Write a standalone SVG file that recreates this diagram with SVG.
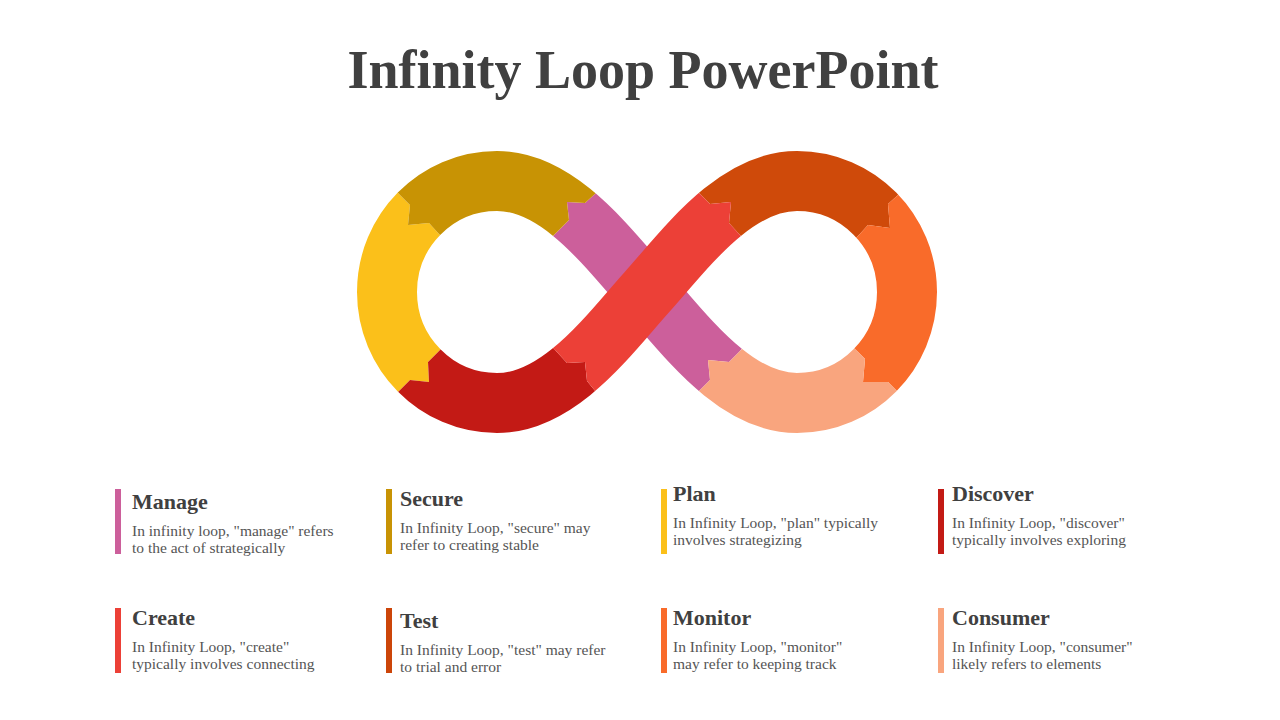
<svg xmlns="http://www.w3.org/2000/svg" width="1280" height="720" viewBox="0 0 1280 720">
<style>
.t{font-family:"Liberation Serif","DejaVu Serif",serif;font-weight:bold;fill:#404040}
.h{font-family:"Liberation Serif","DejaVu Serif",serif;font-weight:bold;font-size:22px;fill:#404040}
.b{font-family:"Liberation Serif","DejaVu Serif",serif;font-size:15.5px;fill:#555}
.s{fill:none;stroke-width:60}
</style>
<defs>
<path id="loop" d="M647,292 C610,251 560,181 497,181 C436,181 387,231 387,292 C387,353 436,403 497,403 C560,403 610,333 647,292 C684,251 734,181 797,181 C858,181 907,231 907,292 C907,353 858,403 797,403 C734,403 684,333 647,292 Z"/>
<path id="dpink" d="M497,181 C560,181 610,251 647,292 C684,333 734,403 797,403"/>
<path id="dred" d="M497,403 C560,403 610,333 647,292 C684,251 734,181 797,181"/>
<clipPath id="cY"><polygon points="370,160 398,193 410,205 408,225 429,223 439,234 497,292 439,351 428,362 429,382 410,380 398,392 370,425 300,470 300,110"/></clipPath>
<clipPath id="cG"><polygon points="370,160 398,193 410,205 408,225 429,223 439,234 497,292 556,233 569,220 567,202 585,203 596,193 625,160 620,100 360,100"/></clipPath>
<clipPath id="cP"><polygon points="640,150 596,193 585,203 567,202 569,220 556,233 520,270 670,430 698,392 710,380 708,360 729,362 740,351 780,300 680,200"/></clipPath>
<clipPath id="cD"><polygon points="370,425 398,392 410,380 429,382 428,362 439,351 497,292 556,351 567,363 585,362 587,381 596,392 625,425 620,480 360,480"/></clipPath>
<clipPath id="cR"><polygon points="625,430 596,392 587,381 585,362 567,363 556,351 530,330 670,160 699,193 710,204 731,202 729,223 740,235 770,265 660,440"/></clipPath>
<clipPath id="cO"><polygon points="670,160 699,193 710,204 731,202 729,223 740,235 797,292 858,236 868,225 890,228 888,204 898,195 930,160 930,100 670,100"/></clipPath>
<clipPath id="cF"><polygon points="930,160 898,195 888,204 890,228 868,225 858,236 797,292 857,351 865,359 863,382 888,382 898,392 930,430 1000,430 1000,150"/></clipPath>
<clipPath id="cK"><polygon points="930,430 898,392 888,382 863,382 865,359 857,351 797,292 740,351 729,362 708,360 710,380 698,392 670,430 670,480 930,480"/></clipPath>
</defs>
<rect width="1280" height="720" fill="#fff"/>
<text class="t" x="643" y="88" font-size="54" text-anchor="middle">Infinity Loop PowerPoint</text>
<g id="loop-segments">
<use href="#dpink" class="s" stroke="#CC5F9B" clip-path="url(#cP)"/>
<use href="#loop" class="s" stroke="#FBC01A" clip-path="url(#cY)"/>
<use href="#loop" class="s" stroke="#C89304" clip-path="url(#cG)"/>
<use href="#loop" class="s" stroke="#C31A15" clip-path="url(#cD)"/>
<use href="#loop" class="s" stroke="#CF4A0A" clip-path="url(#cO)"/>
<use href="#loop" class="s" stroke="#F96B2A" clip-path="url(#cF)"/>
<use href="#loop" class="s" stroke="#F9A57E" clip-path="url(#cK)"/>
<use href="#dred" class="s" stroke="#EC4037" clip-path="url(#cR)"/>
</g>
<g id="manage"><rect x="115" y="489" width="6" height="65" fill="#CC5F9B"/><text class="h" x="132" y="509">Manage</text><text class="b" x="132" y="536">In infinity loop, "manage" refers</text><text class="b" x="132" y="553">to the act of strategically</text></g>
<g id="secure"><rect x="386" y="489" width="6" height="65" fill="#C89304"/><text class="h" x="400" y="506">Secure</text><text class="b" x="400" y="533">In Infinity Loop, "secure" may</text><text class="b" x="400" y="550">refer to creating stable</text></g>
<g id="plan"><rect x="661" y="489" width="6" height="65" fill="#FBC01A"/><text class="h" x="673" y="501">Plan</text><text class="b" x="673" y="528">In Infinity Loop, "plan" typically</text><text class="b" x="673" y="545">involves strategizing</text></g>
<g id="discover"><rect x="938" y="489" width="6" height="65" fill="#C31A15"/><text class="h" x="952" y="501">Discover</text><text class="b" x="952" y="528">In Infinity Loop, "discover"</text><text class="b" x="952" y="545">typically involves exploring</text></g>
<g id="create"><rect x="115" y="608" width="6" height="65" fill="#EC4037"/><text class="h" x="132" y="625">Create</text><text class="b" x="132" y="652">In Infinity Loop, "create"</text><text class="b" x="132" y="669">typically involves connecting</text></g>
<g id="test"><rect x="386" y="608" width="6" height="65" fill="#CC4509"/><text class="h" x="400" y="628">Test</text><text class="b" x="400" y="655">In Infinity Loop, "test" may refer</text><text class="b" x="400" y="672">to trial and error</text></g>
<g id="monitor"><rect x="661" y="608" width="6" height="65" fill="#F96B2A"/><text class="h" x="673" y="625">Monitor</text><text class="b" x="673" y="652">In Infinity Loop, "monitor"</text><text class="b" x="673" y="669">may refer to keeping track</text></g>
<g id="consumer"><rect x="938" y="608" width="6" height="65" fill="#F9A57E"/><text class="h" x="952" y="625">Consumer</text><text class="b" x="952" y="652">In Infinity Loop, "consumer"</text><text class="b" x="952" y="669">likely refers to elements</text></g>
</svg>
